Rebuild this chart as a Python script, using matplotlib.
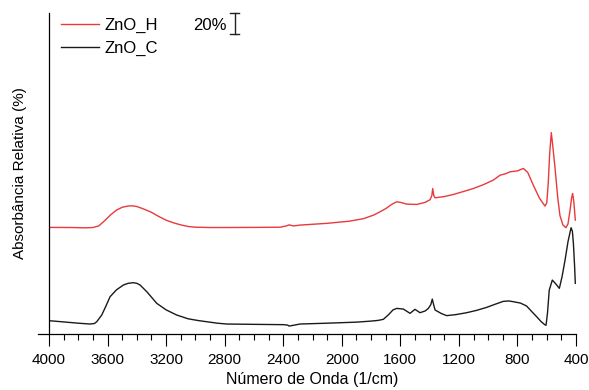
import matplotlib
matplotlib.use("Agg")
import matplotlib.pyplot as plt

plt.rcParams['font.family'] = ['Liberation Sans', 'DejaVu Sans']

# Wavenumber (1/cm) and relative absorbance (%)
wn_h = [4000, 3850, 3750, 3700, 3660, 3620, 3580, 3540, 3500, 3460, 3430, 3400, 3360,
        3300, 3250, 3200, 3150, 3100, 3050, 3000, 2900, 2800, 2600, 2420, 2380, 2360,
        2330, 2286, 2100, 1950, 1850, 1780, 1739, 1700, 1660, 1625, 1600, 1557, 1488,
        1430, 1397, 1385, 1379, 1372, 1363, 1300, 1238, 1170, 1101, 1030, 965, 919, 880,
        851, 800, 760, 730, 692, 650, 612, 600, 590, 580, 569, 558, 544, 525, 510, 490,
        469, 455, 441, 430, 423, 415, 405]
ab_h = [101.6, 101.5, 101.2, 101.5, 103.0, 108.0, 113.5, 118.0, 120.8, 122.0, 122.2, 121.5, 119.5,
        116.0, 112.0, 108.5, 106.0, 104.0, 102.5, 101.8, 101.5, 101.5, 101.6, 101.8, 103.0, 104.0,
        103.0, 103.8, 105.5, 107.5, 110.0, 113.5, 116.5, 119.5, 123.5, 126.0, 125.5, 123.8, 123.5,
        125.5, 128.0, 132.0, 138.7, 132.0, 129.8, 131.0, 133.0, 135.8, 138.7, 142.5, 146.7, 151.4, 152.8,
        154.6, 155.5, 157.8, 154.0, 141.9, 129.5, 121.9, 125.0, 143.5, 172.0, 192.0, 178.0, 159.0, 130.0, 113.0, 104.0,
        101.3, 105.0, 118.0, 130.0, 134.0, 126.0, 108.6]

wn_c = [4000, 3900, 3800, 3720, 3690, 3674, 3640, 3610, 3583, 3540, 3492, 3460, 3424, 3400,
        3378, 3330, 3264, 3200, 3128, 3050, 2980, 2923, 2850, 2786, 2600, 2400, 2370, 2360,
        2330, 2286, 2100, 1900, 1800, 1750, 1716, 1680, 1650, 1625, 1580, 1534, 1500, 1466,
        1430, 1409, 1392, 1382, 1372, 1363, 1320, 1284, 1220, 1147, 1080, 1010, 950, 897,
        860, 829, 780, 738, 700, 669, 640, 615, 605, 595, 583, 562, 540, 514, 495, 475, 455,
        434, 425, 418, 410, 405]
ab_c = [12.7, 11.5, 10.3, 9.5, 10.0, 11.7, 18.0, 27.0, 35.5, 42.0, 46.7, 48.3, 48.9, 48.3,
        46.7, 40.0, 29.2, 23.0, 18.1, 14.5, 12.8, 11.7, 10.3, 9.5, 9.2, 8.9, 8.5, 7.6,
        8.3, 9.5, 10.3, 11.3, 12.3, 13.0, 14.0, 18.5, 23.0, 24.4, 23.8, 19.7, 23.5, 20.3,
        22.0, 24.4, 28.0, 33.3, 27.5, 22.9, 19.5, 17.5, 18.5, 20.3, 22.5, 25.4, 28.5, 31.1,
        31.5, 30.8, 29.5, 26.7, 21.0, 16.5, 12.0, 9.0, 8.3, 20.0, 41.9, 51.4, 48.0, 43.5, 55.0, 70.5, 88.0,
        101.3, 98.0, 86.3, 65.0, 48.3]

series_names = ["ZnO_H", "ZnO_C"]
x_ticks = [4000, 3600, 3200, 2800, 2400, 2000, 1600, 1200, 800, 400]
scale_bar_pct = 20

fig = plt.figure(figsize=(5.89, 3.90), dpi=100)
ax = fig.add_axes([0.0832, 0.1436, 0.8948, 0.8231])

ax.plot(wn_h, ab_h, color='#e8393c', lw=1.0, label=series_names[0])
ax.plot(wn_c, ab_c, color='#1a1a1a', lw=1.0, label=series_names[1])

ax.set_xlim(4000, 400)
ax.set_ylim(0, 306)

ax.spines['top'].set_visible(False)
ax.spines['right'].set_visible(False)
ax.spines['bottom'].set_bounds(4075, 400)
ax.spines['bottom'].set_linewidth(0.9)
ax.spines['left'].set_linewidth(0.9)

ax.set_xticks(x_ticks)
ax.set_xticklabels([str(t) for t in x_ticks], fontsize=11)
ax.set_xticks(list(range(4000, 399, -100)), minor=True)
ax.tick_params(axis='x', which='major', direction='out', length=8.5, width=0.8, pad=5)
ax.tick_params(axis='x', which='minor', direction='out', length=4, width=0.8)
ax.set_yticks([])

ax.set_xlabel("Número de Onda (1/cm)", fontsize=11.5, labelpad=4)
ax.set_ylabel("Absorbância Relativa (%)", fontsize=11, labelpad=16)

leg = ax.legend(loc='upper left', bbox_to_anchor=(0.0, 1.022), frameon=False, fontsize=12,
                handlelength=2.3, handletextpad=0.3, labelspacing=0.5, borderaxespad=0.3)

# scale bar (20%)
xb = 2730
ytop = 305.7
ax.plot([xb, xb], [ytop - scale_bar_pct, ytop], color='#222222', lw=1.0, clip_on=False)
ax.plot([xb - 31, xb + 31], [ytop, ytop], color='#222222', lw=1.0, clip_on=False)
ax.plot([xb - 31, xb + 31], [ytop - scale_bar_pct, ytop - scale_bar_pct], color='#222222', lw=1.0, clip_on=False)
ax.text(xb + 55, ytop - scale_bar_pct / 2 - 2, f"{scale_bar_pct}%", ha='right', va='center', fontsize=12)

fig.savefig("out.png", dpi=100)
